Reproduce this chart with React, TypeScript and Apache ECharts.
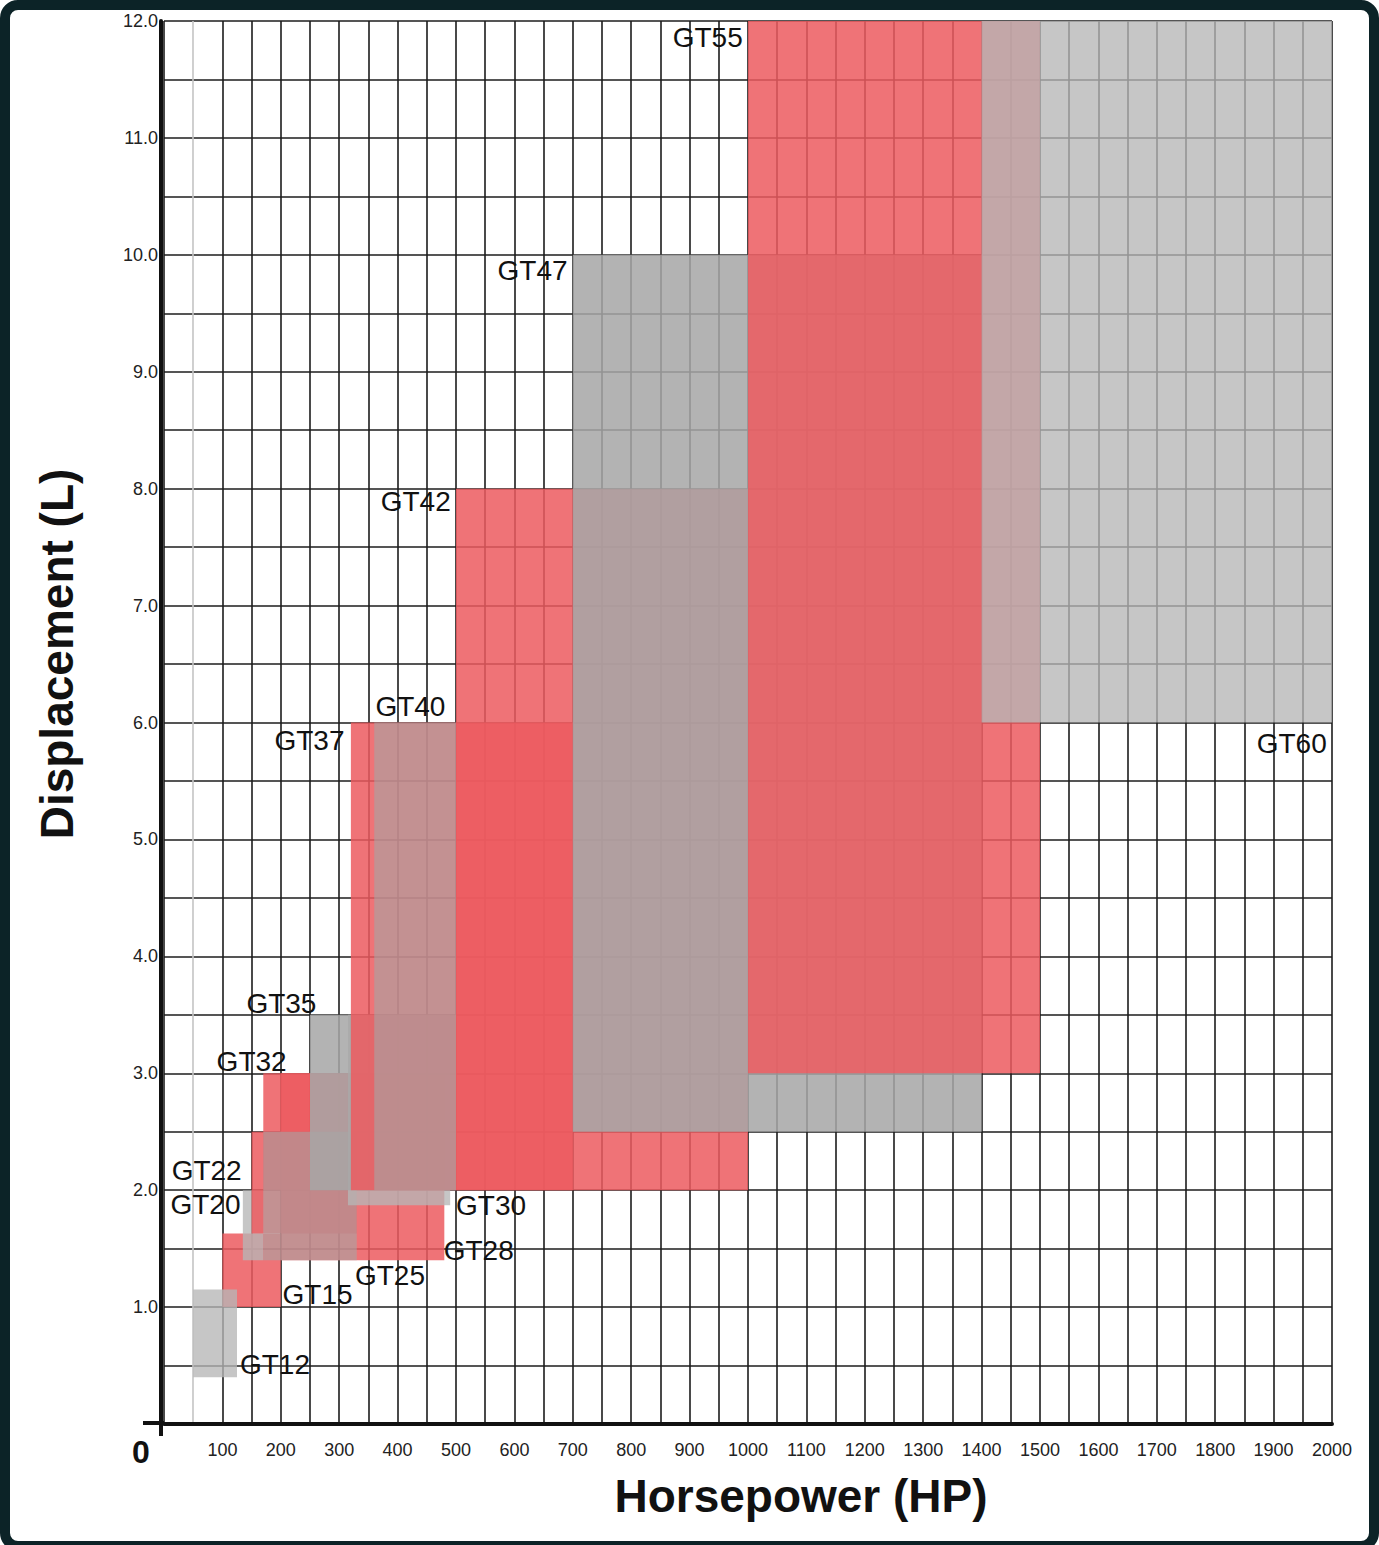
import React, { useEffect, useRef } from "react";
import * as echarts from "echarts";

// Turbo frames, in drawing order (later ones are painted over earlier ones)
const frameNames = ["GT28", "GT15", "GT12", "GT20", "GT22", "GT32", "GT25", "GT30", "GT35", "GT37", "GT40", "GT42", "GT47", "GT55", "GT60"];
const hpMin = [200, 100, 50, 135, 150, 170, 170, 315, 250, 320, 360, 500, 700, 1000, 1400];
const hpMax = [480, 200, 125, 170, 330, 320, 330, 490, 500, 700, 500, 1000, 1400, 1500, 2000];
const dispMin = [1.4, 1.0, 0.4, 1.4, 1.63, 2.0, 1.4, 1.87, 2.0, 2.0, 2.0, 2.0, 2.5, 3.0, 6.0];
const dispMax = [3.0, 1.63, 1.15, 2.0, 2.5, 3.0, 2.5, 3.5, 3.5, 6.0, 6.0, 8.0, 10.0, 12.0, 12.0];
const tones = ["red", "red", "light", "light", "red", "red", "medium", "light", "dark", "red", "medium", "red", "dark", "red", "light"];

// Frame labels: name, anchor horsepower, anchor displacement, text alignment
const labelNames = ["GT55", "GT47", "GT42", "GT40", "GT37", "GT35", "GT32", "GT22", "GT20", "GT30", "GT28", "GT25", "GT15", "GT12", "GT60"];
const labelHp = [991, 691, 491, 362, 309, 261, 210, 133, 131, 500, 479, 327, 203, 130, 1991];
const labelDisp = [11.86, 9.87, 7.89, 6.14, 5.85, 3.6, 3.1, 2.17, 1.88, 1.87, 1.48, 1.27, 1.11, 0.51, 5.82];
const labelAlign = ["right", "right", "right", "left", "right", "right", "right", "right", "right", "left", "left", "left", "left", "left", "right"];

const HP_MIN = 0;
const HP_MAX = 2000;
const HP_STEP = 50;
const DISP_MIN = 0;
const DISP_MAX = 12;
const DISP_STEP = 0.5;

const toneColors: Record<string, string> = {
  red: "rgba(236,90,95,0.85)",
  dark: "rgba(167,167,167,0.86)",
  medium: "rgba(165,165,165,0.6)",
  light: "rgba(182,182,182,0.78)",
};

const FONT = "'Liberation Sans', Arial, Helvetica, sans-serif";

export default function App() {
  const ref = useRef<HTMLDivElement>(null);

  useEffect(() => {
    if (!ref.current) return;
    const chart = echarts.init(ref.current, undefined, { renderer: "svg" });

    const frameData = frameNames.map((n, i) => ({
      name: n,
      value: [hpMin[i], hpMax[i], dispMin[i], dispMax[i]],
    }));
    const labelData = labelNames.map((n, i) => ({
      name: n,
      value: [labelHp[i], labelDisp[i]],
    }));

    const xLineCount = (HP_MAX - HP_MIN) / HP_STEP + 1;
    const xLineColors = Array.from({ length: xLineCount }, (_, i) => (i === 1 ? "#c4c4c4" : "#1c1c1c"));

    const option: any = {
      animation: false,
      backgroundColor: "#ffffff",
      grid: { left: 164, top: 21, width: 1168, height: 1403 },
      xAxis: {
        type: "value",
        min: HP_MIN,
        max: HP_MAX,
        interval: HP_STEP,
        axisLine: { show: true, onZero: false, lineStyle: { color: "#111", width: 4 } },
        axisTick: { show: false },
        axisLabel: {
          margin: 17,
          fontSize: 18,
          color: "#222",
          fontFamily: FONT,
          showMinLabel: true,
          showMaxLabel: true,
          formatter: (v: number) => (v > 0 && v % 100 === 0 ? String(v) : ""),
        },
        splitLine: { show: true, lineStyle: { color: xLineColors, width: 1.6 } },
      },
      yAxis: {
        type: "value",
        min: DISP_MIN,
        max: DISP_MAX,
        interval: DISP_STEP,
        offset: 3,
        axisLine: { show: true, onZero: false, lineStyle: { color: "#111", width: 4 } },
        axisTick: { show: false },
        axisLabel: {
          margin: 3,
          fontSize: 18,
          color: "#222",
          fontFamily: FONT,
          formatter: (v: number) => (v > 0 && v % 1 === 0 ? v.toFixed(1) : ""),
        },
        splitLine: { show: true, lineStyle: { color: "#1c1c1c", width: 1.6 } },
      },
      series: [
        {
          type: "custom",
          name: "frames",
          data: frameData,
          encode: { x: [0, 1], y: [2, 3] },
          z: 3,
          renderItem: (params: any, api: any) => {
            const i = params.dataIndex;
            const p0 = api.coord([api.value(0), api.value(3)]);
            const p1 = api.coord([api.value(1), api.value(2)]);
            return {
              type: "rect",
              shape: { x: p0[0], y: p0[1], width: p1[0] - p0[0], height: p1[1] - p0[1] },
              style: { fill: toneColors[tones[i]] },
            };
          },
        },
        {
          type: "custom",
          name: "labels",
          data: labelData,
          encode: { x: 0, y: 1 },
          z: 5,
          renderItem: (params: any, api: any) => {
            const i = params.dataIndex;
            const p = api.coord([api.value(0), api.value(1)]);
            return {
              type: "text",
              x: p[0],
              y: p[1],
              style: {
                text: labelNames[i],
                fill: "#111",
                fontSize: 28,
                fontFamily: FONT,
                align: labelAlign[i],
                verticalAlign: "middle",
              },
            };
          },
        },
      ],
      graphic: [
        { type: "line", shape: { x1: 143, y1: 1423, x2: 164, y2: 1423 }, style: { stroke: "#111", lineWidth: 4 }, z: 10 },
        { type: "line", shape: { x1: 161, y1: 1423, x2: 161, y2: 1436 }, style: { stroke: "#111", lineWidth: 4 }, z: 10 },
        {
          type: "text",
          x: 141,
          y: 1452,
          style: { text: "0", fontSize: 32, fontWeight: "bold", fontFamily: FONT, fill: "#111", align: "center", verticalAlign: "middle" },
        },
        {
          type: "text",
          x: 801,
          y: 1496,
          style: { text: "Horsepower (HP)", fontSize: 46, fontWeight: "bold", fontFamily: FONT, fill: "#111", align: "center", verticalAlign: "middle" },
        },
        {
          type: "text",
          x: 57,
          y: 654,
          rotation: Math.PI / 2,
          style: { text: "Displacement (L)", fontSize: 46, fontWeight: "bold", fontFamily: FONT, fill: "#111", align: "center", verticalAlign: "middle" },
        },
      ],
    };

    chart.setOption(option);
    return () => chart.dispose();
  }, []);

  return (
    <div style={{ position: "fixed", left: 0, top: 0, width: 1379, height: 1545, background: "#fff", overflow: "hidden" }}>
      <div ref={ref} style={{ position: "absolute", left: 0, top: 0, width: 1379, height: 1545 }} />
      <div
        style={{
          position: "absolute",
          left: 0,
          top: 0,
          width: 1379,
          height: 1551,
          boxSizing: "border-box",
          border: "10px solid #0c2327",
          borderRadius: 18,
          pointerEvents: "none",
        }}
      />
    </div>
  );
}
